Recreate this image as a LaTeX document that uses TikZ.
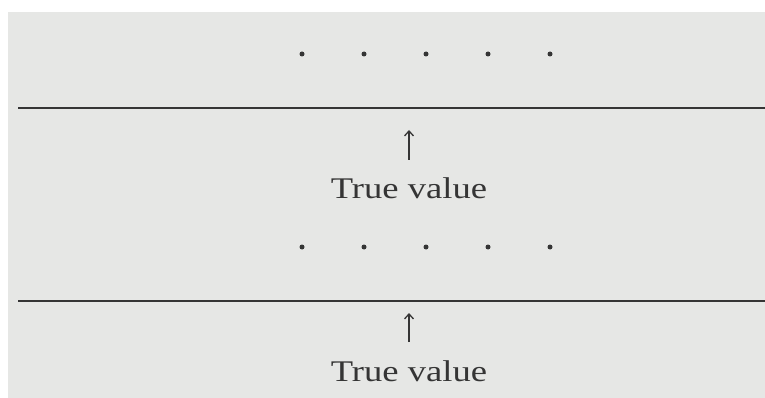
\documentclass[tikz,border=0pt]{standalone}
\usepackage{fontspec}
\setmainfont{Liberation Serif}
\usetikzlibrary{arrows.meta}
\definecolor{pagegray}{HTML}{E6E7E5}
\definecolor{inkgray}{HTML}{353535}
\begin{document}
\begin{tikzpicture}[x=1pt,y=-1pt,line join=round,>={Straight Barb[length=5pt,width=9pt]}]
                \def\mydotx{302}\def\mydotsp{62}\def\mylnl{18}\def\myarx{409}
                \tikzset{truelbl/.style={anchor=base,inner sep=0pt,text=inkgray,xscale=1.22,font=\fontsize{30}{36}\selectfont}}
                \useasboundingbox (0,0) rectangle (765,398);
                \fill[pagegray] (8,12) rectangle (765,398);
                \foreach \i in {0,...,4} {\fill[inkgray] (\mydotx+\i*\mydotsp,54) circle (2.5);}
                \foreach \i in {0,...,4} {\fill[inkgray] (\mydotx+\i*\mydotsp,247) circle (2.5);}
                \draw[inkgray,line width=1.6] (\mylnl,108)--(765,108) (\mylnl,301)--(765,301);
                \node[truelbl] (tvala) at (\myarx,199) {True value};
                \node[truelbl] (tvalb) at (\myarx,381) {True value};
                \coordinate (basea) at (\myarx,160);\coordinate (tipa) at (\myarx,130);
                \coordinate (baseb) at (\myarx,342);\coordinate (tipb) at (\myarx,313);
                \draw[->,inkgray,line width=1.3] (basea)--(tipa);
                \draw[->,inkgray,line width=1.3] (baseb)--(tipb);
            \end{tikzpicture}
\end{document}
